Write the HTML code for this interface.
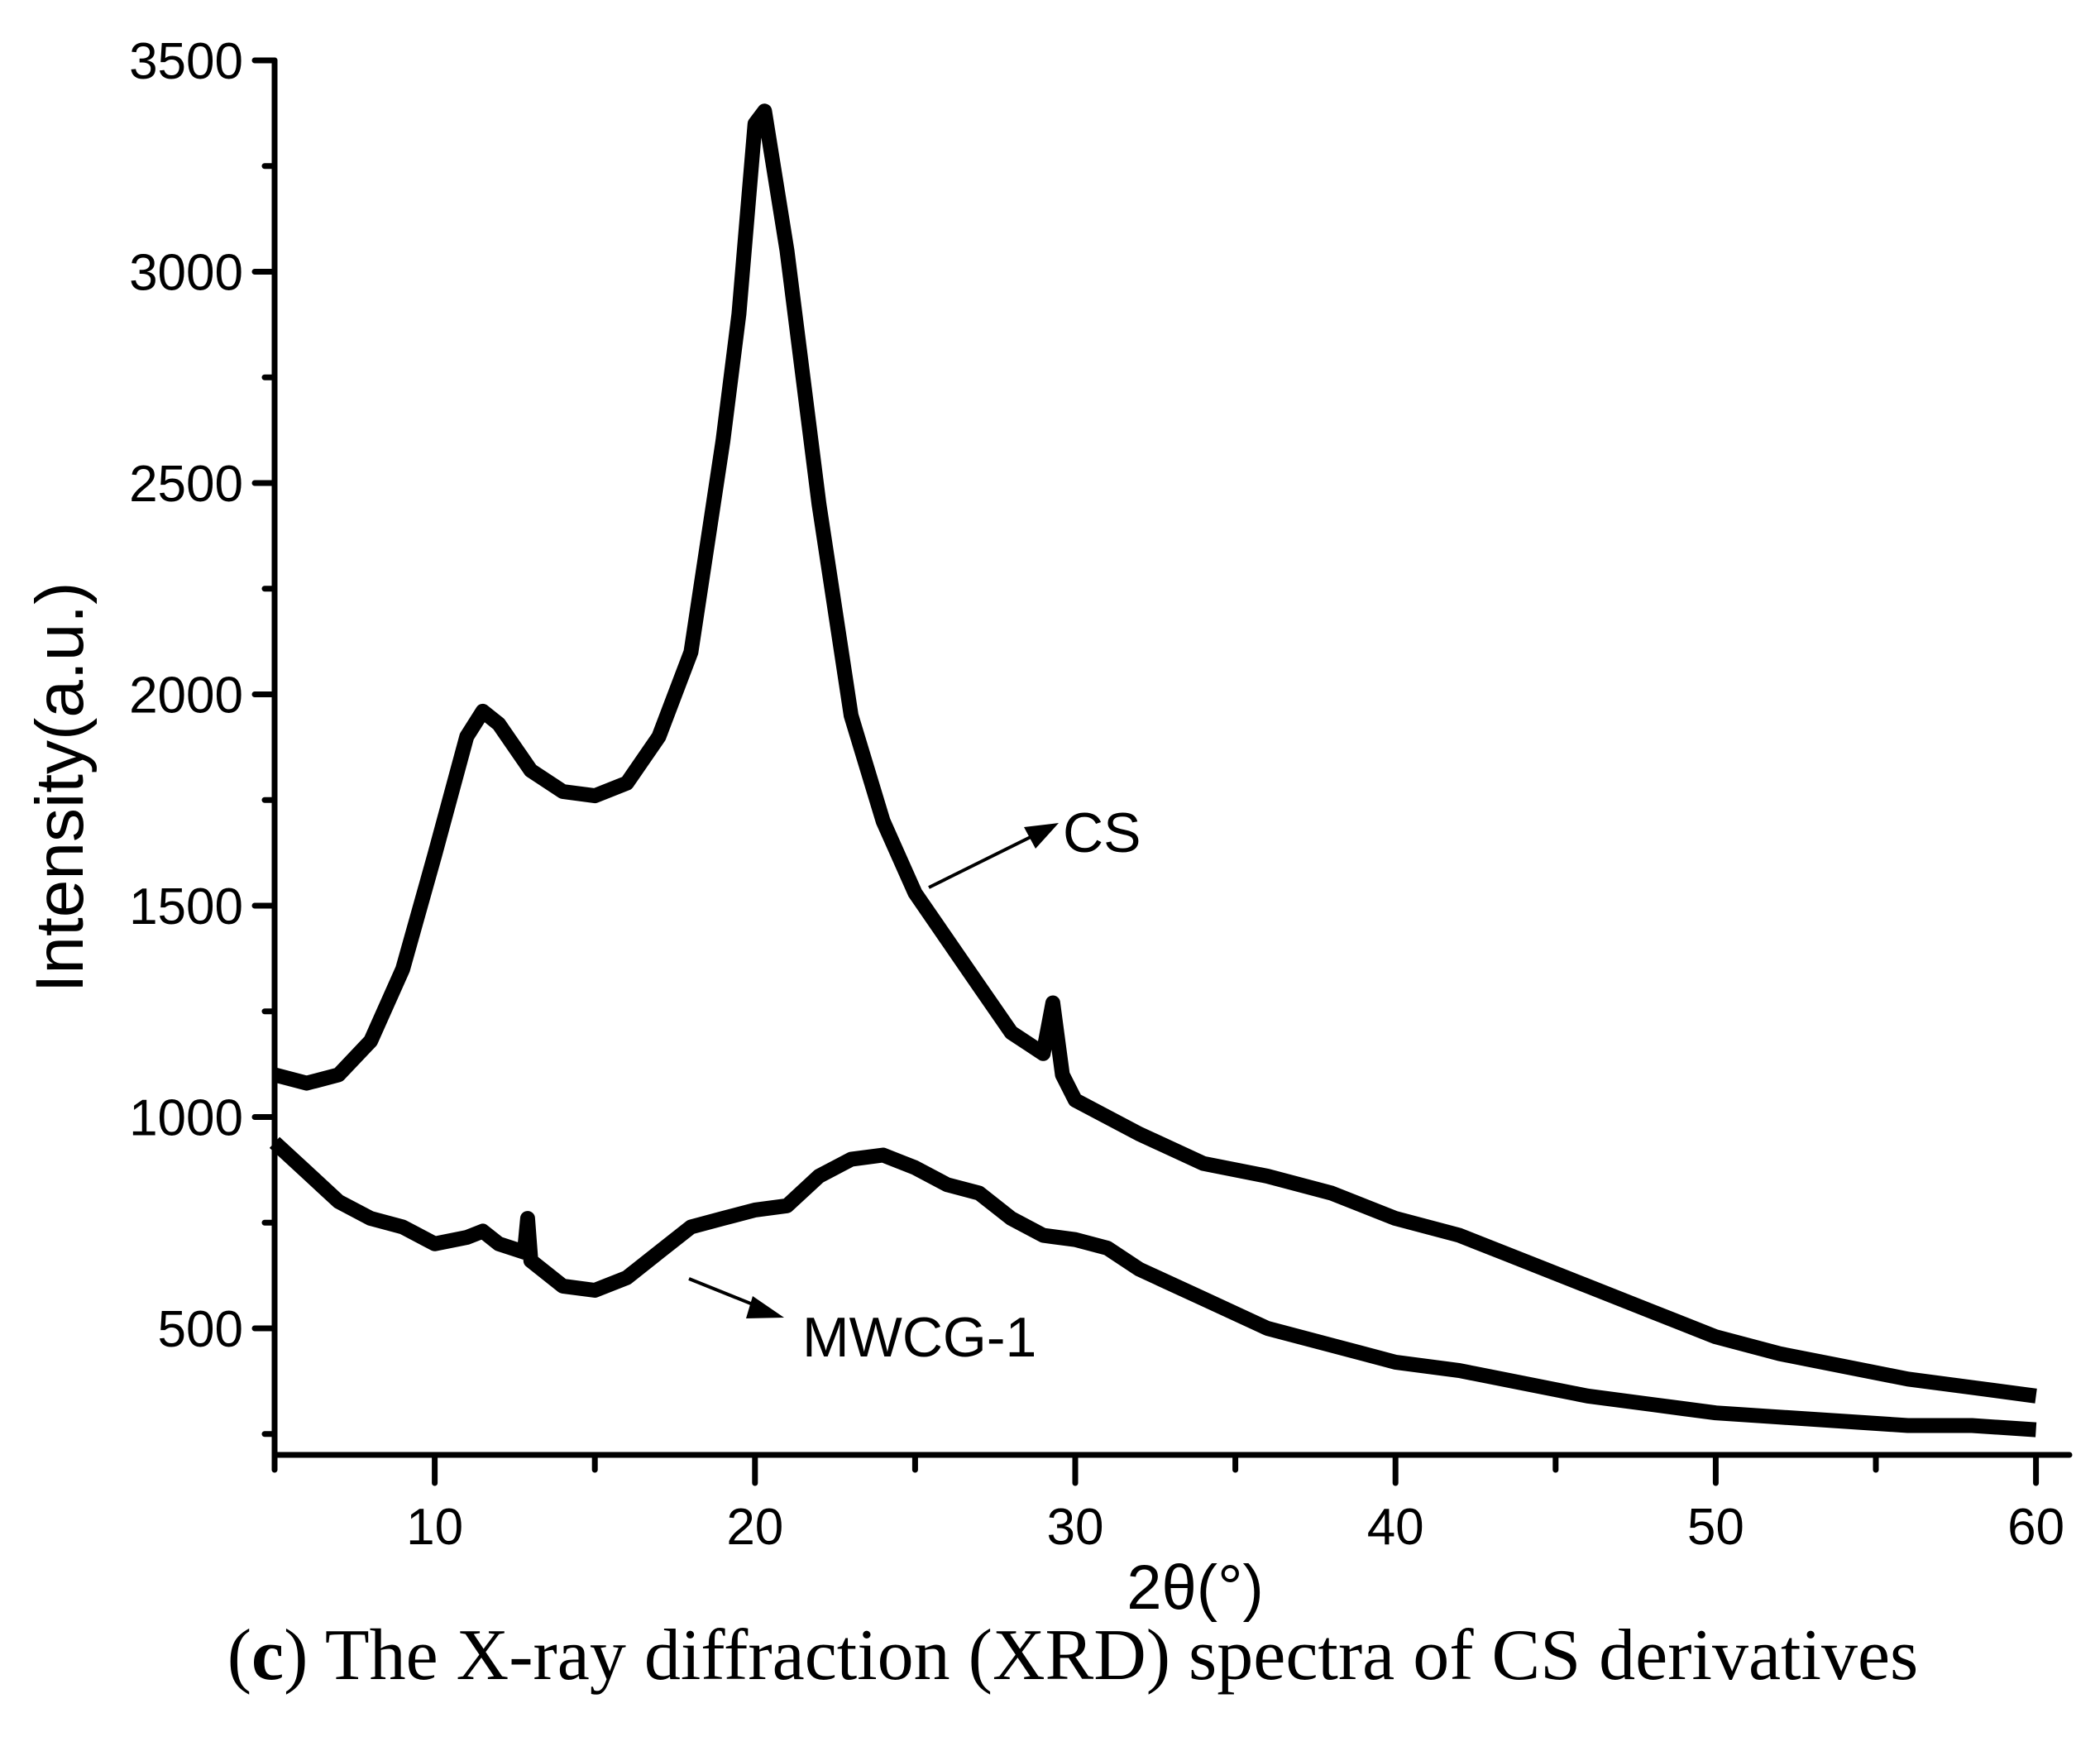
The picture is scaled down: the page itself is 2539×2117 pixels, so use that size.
<!DOCTYPE html>
<html><head><meta charset="utf-8"><style>
html,body{margin:0;padding:0;background:#fff;}
svg{display:block;}
text{font-family:"Liberation Sans",sans-serif;fill:#000;}
</style></head><body>
<svg id="chart" width="2539" height="2117" viewBox="0 0 2539 2117" xmlns="http://www.w3.org/2000/svg">
<g id="series"></g>
<g id="axes"></g>
<text x="0" y="0" font-size="82" text-anchor="middle" transform="translate(100,952) rotate(-90)">Intensity(a.u.)</text>
<text x="1445" y="1945" font-size="76" text-anchor="middle">2θ(°)</text>
<text x="1297" y="2030" font-size="88" text-anchor="middle" style="font-family:'Liberation Serif',serif">(<tspan font-weight="bold">c</tspan>) The X-ray diffraction (XRD) spectra of CS derivatives</text>
<g>
<line x1="1123" y1="1073" x2="1250" y2="1010" stroke="#000" stroke-width="4"/>
<polygon points="1280,995 1238,1000 1252,1026" fill="#000"/>
<text x="1285" y="1030" font-size="68">CS</text>
</g>
<g>
<line x1="833" y1="1546" x2="920" y2="1581" stroke="#000" stroke-width="4"/>
<polygon points="948,1593 910,1567 902,1594" fill="#000"/>
<text x="970" y="1640" font-size="68">MWCG-1</text>
</g>
</svg>
<script>
const xTicks=[10,20,30,40,50,60];
const yTicks=[500,1000,1500,2000,2500,3000,3500];
const csX=[5,6,7,8,9,10,11,11.5,12,13,14,15,16,17,18,19,19.5,20,20.3,21,22,23,24,25,26,27,28,29,29.3,29.6,30,32,34,36,38,40,42,44,46,48,50,52,54,56,58,60];
const csY=[1100,1080,1100,1180,1350,1620,1900,1960,1930,1820,1770,1760,1790,1900,2100,2600,2900,3350,3380,3050,2450,1950,1700,1530,1420,1310,1200,1150,1270,1100,1040,960,890,860,820,760,720,660,600,540,480,440,410,380,360,340];
const mwX=[5,6,7,8,9,10,11,11.5,12,12.8,12.9,13,14,15,16,17,18,19,20,21,22,23,24,25,26,27,28,29,30,31,32,34,36,38,40,42,44,46,48,50,52,54,56,58,60];
const mwY=[940,870,800,760,740,700,715,730,700,680,760,660,600,590,620,680,740,760,780,790,860,900,910,880,840,820,760,720,710,690,640,570,500,460,420,400,370,340,320,300,290,280,270,270,260];
const X0=332,PX10=387.2,Y500=1606,PY500=255.5;
function sx(v){return X0+(v-5)*PX10/10;}
function sy(v){return Y500-(v-500)*PY500/500;}
const NS="http://www.w3.org/2000/svg";
const sg=document.getElementById('series');
function series(xs,ys,name){
  const p=document.createElementNS(NS,'polyline');
  
  
  p.setAttribute('points',xs.map((x,i)=>sx(x).toFixed(1)+','+sy(ys[i]).toFixed(1)).join(' '));
  p.setAttribute('fill','none');p.setAttribute('stroke','#000');
  p.setAttribute('stroke-width','18');p.setAttribute('stroke-linejoin','round');
  sg.appendChild(p);
}
series(csX,csY,'cs-line');
series(mwX,mwY,'mwcg-1-line');
const ag=document.getElementById('axes');
function ln(x1,y1,x2,y2,w,name){
  const l=document.createElementNS(NS,'line');
  
  
  l.setAttribute('x1',x1);l.setAttribute('y1',y1);l.setAttribute('x2',x2);l.setAttribute('y2',y2);
  l.setAttribute('stroke','#000');l.setAttribute('stroke-width',w);l.setAttribute('stroke-linecap','round');
  ag.appendChild(l);
}
const yBot=1759,yTop=sy(3500),xEnd=2502;
ln(X0,yTop,X0,yBot+18,7,'y-axis-line');
ln(X0,yBot,xEnd,yBot,7,'x-axis-line');
function txt(x,y,s,anchor,name){
  const t=document.createElementNS(NS,'text');
  
  
  t.setAttribute('x',x);t.setAttribute('y',y);t.setAttribute('font-size','62');t.setAttribute('text-anchor',anchor);
  t.textContent=s;ag.appendChild(t);
}
yTicks.forEach(v=>{ln(X0-24,sy(v),X0,sy(v),7,'y-tick');txt(X0-38,sy(v)+22,String(v),'end','y-tick-label');});
[250,750,1250,1750,2250,2750,3250].forEach(v=>{ln(X0-12,sy(v),X0,sy(v),7,'y-minor-tick');});
xTicks.forEach(v=>{ln(sx(v),yBot,sx(v),yBot+34,7,'x-tick');txt(sx(v),yBot+108,String(v),'middle','x-tick-label');});
[15,25,35,45,55].forEach(v=>{ln(sx(v),yBot,sx(v),yBot+18,7,'x-minor-tick');});
</script>
</body></html>
